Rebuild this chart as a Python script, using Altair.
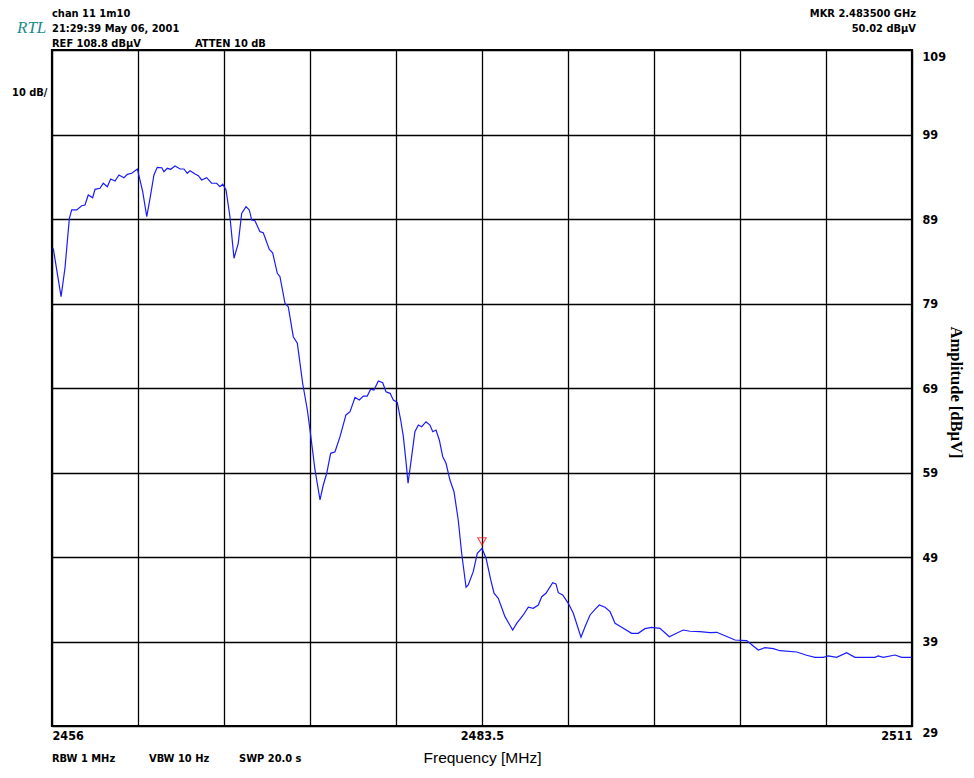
import altair as alt
import pandas as pd

# ---- data ----
freq_mhz = [2456.08, 2456.58, 2456.83, 2457.11, 2457.26, 2457.58, 2457.90, 2458.11, 2458.32, 2458.60,
            2458.75, 2459.07, 2459.28, 2459.54, 2459.75, 2460.03, 2460.28, 2460.60, 2460.82, 2461.10,
            2461.46, 2461.80, 2462.06, 2462.27, 2462.52, 2462.73, 2463.02, 2463.16, 2463.37, 2463.59,
            2463.87, 2464.19, 2464.44, 2464.65, 2464.83, 2465.15, 2465.36, 2465.57, 2465.89, 2466.21,
            2466.53, 2466.74, 2466.92, 2467.13, 2467.38, 2467.64, 2467.91, 2468.13, 2468.41, 2468.62,
            2468.77, 2468.98, 2469.30, 2469.51, 2469.90, 2470.11, 2470.41, 2470.58, 2470.90, 2471.11,
            2471.43, 2471.69, 2472.03, 2472.33, 2472.50, 2472.82, 2473.14, 2473.35, 2473.57, 2473.82,
            2474.10, 2474.42, 2474.80, 2475.06, 2475.38, 2475.65, 2475.91, 2476.16, 2476.38, 2476.59,
            2476.87, 2477.15, 2477.36, 2477.62, 2477.83, 2478.08, 2478.30, 2478.47, 2478.64, 2478.77,
            2479.00, 2479.21, 2479.43, 2479.64, 2479.92, 2480.17, 2480.35, 2480.56, 2480.77, 2480.99,
            2481.20, 2481.45, 2481.71, 2481.98, 2482.20, 2482.48, 2482.62, 2482.94, 2483.20, 2483.50,
            2483.76, 2484.06, 2484.27, 2484.54, 2484.97, 2485.46, 2485.72, 2486.14, 2486.46, 2486.78,
            2487.10, 2487.32, 2487.59, 2488.02, 2488.23, 2488.38, 2488.66, 2489.02, 2489.34, 2489.83,
            2490.09, 2490.41, 2490.73, 2491.00, 2491.37, 2491.69, 2492.01, 2492.43, 2493.07, 2493.49,
            2493.92, 2494.35, 2494.88, 2495.20, 2495.48, 2495.84, 2496.37, 2496.80, 2497.44, 2498.08,
            2498.51, 2498.93, 2499.68, 2500.43, 2500.85, 2501.17, 2501.60, 2502.13, 2502.56, 2503.63,
            2504.26, 2504.80, 2505.33, 2505.65, 2506.18, 2506.82, 2507.35, 2508.63, 2508.84, 2509.16,
            2509.91, 2510.34, 2510.98]

amp_dbuv = [85.53, 79.81, 83.20, 89.08, 90.07, 90.07, 90.57, 90.66, 91.84, 91.52,
            92.51, 92.63, 93.23, 92.82, 93.73, 93.50, 94.21, 93.89, 94.29, 94.41,
            94.92, 92.23, 89.27, 91.45, 94.21, 95.12, 95.07, 94.60, 95.00, 94.88,
            95.27, 94.92, 94.92, 94.41, 94.72, 94.33, 94.12, 93.62, 93.89, 93.23,
            93.23, 92.82, 93.11, 92.43, 89.27, 84.35, 86.12, 89.67, 90.46, 90.07,
            88.88, 88.80, 87.50, 87.38, 85.41, 85.01, 82.57, 82.17, 79.02, 78.62,
            75.07, 74.29, 69.56, 66.40, 64.03, 59.30, 55.75, 57.52, 58.91, 61.27,
            61.46, 63.24, 65.81, 66.20, 67.90, 67.58, 68.05, 68.05, 68.85, 68.76,
            69.83, 69.63, 68.56, 68.37, 67.58, 67.31, 65.21, 63.24, 60.28, 57.72,
            60.87, 63.83, 64.62, 64.42, 65.01, 64.62, 63.83, 64.03, 62.85, 60.87,
            60.09, 58.11, 56.73, 53.38, 49.44, 45.42, 45.69, 47.26, 49.44, 50.02,
            48.85, 46.28, 44.71, 44.11, 41.94, 40.36, 41.15, 42.14, 43.05, 42.93,
            43.32, 44.30, 44.71, 45.96, 45.81, 44.78, 44.50, 43.52, 42.34, 39.50,
            40.75, 42.14, 42.81, 43.32, 43.05, 42.53, 41.15, 40.68, 39.97, 39.97,
            40.52, 40.68, 40.56, 40.04, 39.57, 39.89, 40.36, 40.21, 40.16, 40.04,
            40.09, 39.77, 39.18, 39.10, 38.47, 37.99, 38.27, 38.15, 37.91, 37.76,
            37.37, 37.13, 37.13, 37.29, 37.13, 37.68, 37.13, 37.13, 37.29, 37.13,
            37.40, 37.13, 37.13]

marker_freq = [2483.5]
marker_amp = [50.02]

x_grid_values = [2456, 2461.5, 2467, 2472.5, 2478, 2483.5, 2489, 2494.5, 2500, 2505.5, 2511]
x_label_values = [2456, 2483.5, 2511]
y_grid_values = [29, 39, 49, 59, 69, 79, 89, 99, 109]

header_left = ["chan  11 1m10", "21:29:39 May 06, 2001", "REF 108.8 dB\u00b5V"]
header_atten = "ATTEN 10 dB"
header_right = ["MKR  2.483500 GHz", "50.02 dB\u00b5V"]
logo_text = "RTL"
scale_text = "10 dB/"
footer_texts = ["RBW 1 MHz", "VBW 10 Hz", "SWP 20.0 s"]
x_title = "Frequency [MHz]"
y_title = "Amplitude [dB\u00b5V]"

NARROW = "Liberation Sans Narrow, DejaVu Sans Condensed, Arial Narrow, sans-serif"

trace = pd.DataFrame({"freq": freq_mhz, "amp": amp_dbuv})
marker = pd.DataFrame({"freq": marker_freq, "amp": marker_amp})

label_test = " || ".join(f"datum.value == {v}" for v in x_label_values)

x_enc = alt.X(
    "freq:Q",
    scale=alt.Scale(domain=[2456, 2511], nice=False, zero=False),
    axis=alt.Axis(
        values=x_grid_values,
        labelExpr=f"({label_test}) ? toString(datum.value) : ''",
        labelFlush=True,
        labelFont=NARROW, labelFontSize=12.5, labelFontWeight="bold", labelColor="#000",
        labelPadding=3, ticks=False, domain=False,
        grid=True, gridColor="#000", gridWidth=1.3, gridOpacity=1,
        title=x_title, titleFont="Liberation Sans, Arial, sans-serif", titleFontSize=15.5,
        titleFontWeight="normal", titleColor="#000", titleY=31, titleBaseline="middle",
    ),
)
y_enc = alt.Y(
    "amp:Q",
    scale=alt.Scale(domain=[29, 109], nice=False, zero=False),
    axis=alt.Axis(
        orient="right", values=y_grid_values, format="d",
        labelFont=NARROW, labelFontSize=12.5, labelFontWeight="bold", labelColor="#000",
        labelPadding=10, ticks=False, domain=False,
        labelBaseline={"condition": {"test": "datum.value == 109 || datum.value == 29", "value": "top"},
                       "value": "middle"},
        grid=True, gridColor="#000", gridWidth=1.3, gridOpacity=1,
        title=y_title, titleFont="Liberation Serif, Times New Roman, serif", titleFontSize=16.5,
        titleFontWeight="bold", titleColor="#000", titleAngle=90, titleX=43, titleY=342,
        titleAlign="center", titleBaseline="middle",
    ),
)

line = alt.Chart(trace).mark_line(color="#1a1aff", strokeWidth=1.2, interpolate="linear").encode(
    x=x_enc, y=y_enc
)

mark_pt = alt.Chart(marker).mark_point(
    shape="triangle-down", filled=False, color="#ff0000", strokeWidth=1.2, size=70, yOffset=-7
).encode(x="freq:Q", y="amp:Q")

one = alt.Data(values=[{}])


def note(text, x, y, align="left", font=NARROW, size=11, weight="bold", style="normal", color="#000"):
    return alt.Chart(one).mark_text(
        text=text, align=align, baseline="middle", font=font, fontSize=size,
        fontWeight=weight, fontStyle=style, color=color,
    ).encode(x=alt.value(x), y=alt.value(y))


# positions relative to the plot area's top-left corner (plot is 860 x 676)
notes = [
    note(header_left[0], 0, -36),
    note(header_left[1], 0, -21),
    note(header_left[2], 0, -6),
    note(header_atten, 143, -6),
    note(header_right[0], 864, -36, align="right"),
    note(header_right[1], 864, -21, align="right"),
    note(logo_text, -35, -22, font="Liberation Serif, Times New Roman, serif", size=17,
         weight="normal", style="italic", color="#1b8c8c"),
    note(scale_text, -40, 43),
    note(footer_texts[0], 0, 709),
    note(footer_texts[1], 97, 709),
    note(footer_texts[2], 187, 709),
]

chart = alt.layer(line, mark_pt, *notes).properties(
    width=860, height=676,
    autosize=alt.AutoSizeParams(type="none"),
    padding={"left": 44, "top": 42, "right": 54, "bottom": 40},
    background="#ffffff",
).configure_view(stroke="#000", strokeWidth=2.2)

chart.save("out.html", embed_options={"renderer": "svg", "actions": False})
